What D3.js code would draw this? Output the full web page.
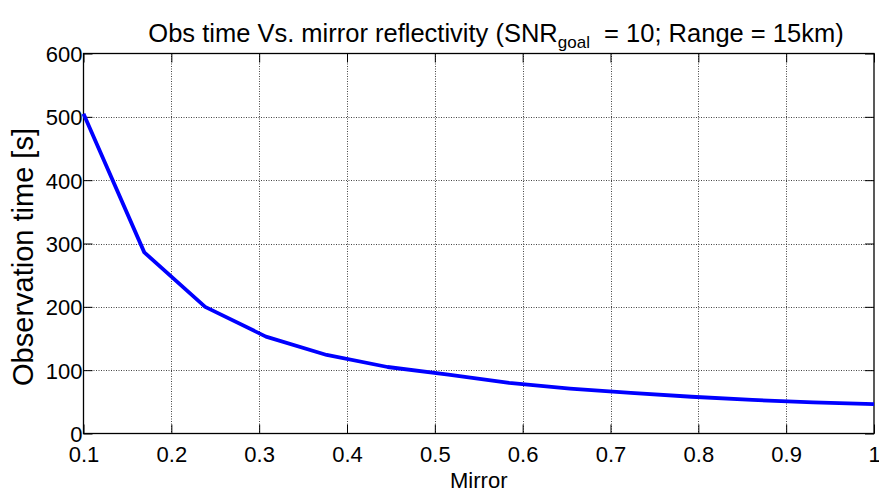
<!DOCTYPE html>
<html><head><meta charset="utf-8">
<script src="https://cdn.jsdelivr.net/npm/d3@7"></script>
<style>
html,body{margin:0;padding:0;background:#fff;}
svg{display:block;}
text{font-family:"Liberation Sans",Arial,sans-serif;fill:#000;}
</style></head>
<body>
<svg id="chart" width="879" height="494"></svg>
<script>
const mirror = [0.1, 0.1692, 0.2385, 0.3077, 0.3769, 0.4462, 0.5154, 0.5846, 0.6538, 0.7231, 0.7923, 0.8615, 0.9308, 1.0];
const obsTime = [505, 286, 200, 153, 124, 105, 93, 80, 71, 64, 58, 53, 49, 46.5];
const xTicks = [0.1, 0.2, 0.3, 0.4, 0.5, 0.6, 0.7, 0.8, 0.9, 1];
const yTicks = [0, 100, 200, 300, 400, 500, 600];

const svg = d3.select("#chart");
const L = 83.5, R = 874, T = 53.5, B = 433.5;
const x = d3.scaleLinear().domain([0.1, 1]).range([L, R]);
const y = d3.scaleLinear().domain([0, 600]).range([B, T]);

// grid
const grid = svg.append("g");
grid.selectAll(".gx").data(xTicks.slice(1, -1)).join("line")
  .attr("x1", d => Math.round(x(d)) + 0.5).attr("x2", d => Math.round(x(d)) + 0.5)
  .attr("y1", T).attr("y2", B)
  .attr("stroke", "#444").attr("stroke-width", 1).attr("stroke-dasharray", "1,1.5");
grid.selectAll(".gy").data(yTicks.slice(1, -1)).join("line")
  .attr("y1", d => Math.round(y(d)) + 0.5).attr("y2", d => Math.round(y(d)) + 0.5)
  .attr("x1", L).attr("x2", R)
  .attr("stroke", "#444").attr("stroke-width", 1).attr("stroke-dasharray", "1,1.5");

// axes with inward ticks
const tk = 9;
const fmtX = d => d === 1 ? "1" : d3.format(".1f")(d);
const xb = svg.append("g").attr("transform", `translate(0,${B})`)
  .call(d3.axisBottom(x).tickValues(xTicks).tickSizeInner(-tk).tickSizeOuter(0).tickPadding(13).tickFormat(fmtX));
const xt = svg.append("g").attr("transform", `translate(0,${T})`)
  .call(d3.axisTop(x).tickValues(xTicks).tickSizeInner(-tk).tickSizeOuter(0).tickFormat(""));
const yl = svg.append("g").attr("transform", `translate(${L},0)`)
  .call(d3.axisLeft(y).tickValues(yTicks).tickSizeInner(-tk).tickSizeOuter(0).tickPadding(1));
const yr = svg.append("g").attr("transform", `translate(${R},0)`)
  .call(d3.axisRight(y).tickValues(yTicks).tickSizeInner(-tk).tickSizeOuter(0).tickFormat(""));
[xb, xt, yl, yr].forEach(g => {
  g.select(".domain").remove();
  g.selectAll(".tick line").attr("stroke", "#000").attr("stroke-width", 1);
  g.selectAll("text").style("font-size", "22px").attr("fill", "#000");
});
yl.selectAll("text").attr("dy", "0.36em");

// box
svg.append("rect").attr("x", L).attr("y", T).attr("width", R - L).attr("height", B - T)
  .attr("fill", "none").attr("stroke", "#000").attr("stroke-width", 1.3);

// line
svg.append("path").datum(mirror.map((m, i) => [m, obsTime[i]]))
  .attr("d", d3.line().x(d => x(d[0])).y(d => y(d[1])))
  .attr("fill", "none").attr("stroke", "#0000ff").attr("stroke-width", 3.8)
  .attr("stroke-linejoin", "round");

// title
const title = svg.append("text").attr("x", 496).attr("y", 42).attr("text-anchor", "middle")
  .style("font-size", "25.5px").style("white-space", "pre");
title.append("tspan").text("Obs time Vs. mirror reflectivity (SNR");
title.append("tspan").attr("dy", 6).style("font-size", "17px").text("goal");
title.append("tspan").attr("dy", -6).text("  = 10; Range = 15km)");

// labels
svg.append("text").attr("x", (L + R) / 2).attr("y", 488).attr("text-anchor", "middle")
  .style("font-size", "22px").text("Mirror");
svg.append("text").attr("transform", `translate(33,257) rotate(-90)`).attr("text-anchor", "middle")
  .style("font-size", "29px").text("Observation time [s]");
</script>
</body></html>
